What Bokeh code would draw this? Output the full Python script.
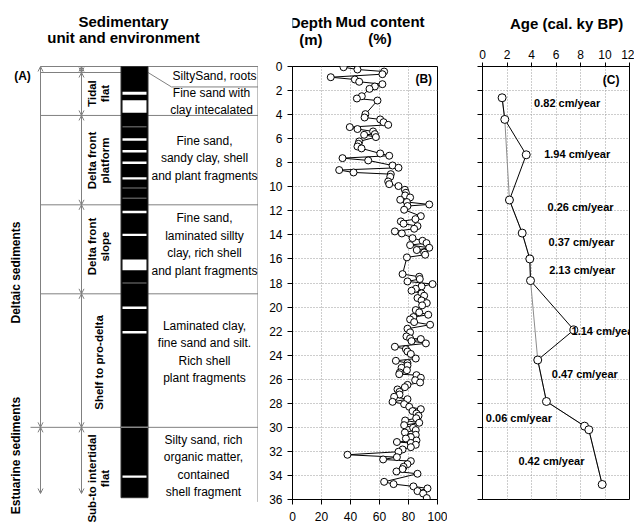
import math
from bokeh.plotting import figure
from bokeh.layouts import row, column
from bokeh.models import Range1d, Label, FixedTicker, Arrow, OpenHead, ColumnDataSource
from bokeh.core.properties import value
from bokeh.embed import file_html
from bokeh.resources import INLINE

FONT = "Liberation Sans"

# ---------------- core log (A) ----------------
unit_names = ["Tidal\nflat", "Delta front\nplatform", "Delta front\nslope",
              "Shelf to pro-delta", "Sub-to intertidal\nflat"]
unit_top = [0.5, 4.07, 11.5, 18.9, 30.0]
unit_base = [4.07, 11.5, 18.9, 30.0, 35.5]
unit_desc = ["Fine sand with\nclay intecalated",
             "Fine sand,\nsandy clay, shell\nand plant fragments",
             "Fine sand,\nlaminated sillty\nclay, rich shell\nand plant fragments",
             "Laminated clay,\nfine sand and silt.\nRich shell\nplant fragments",
             "Silty sand, rich\norganic matter,\ncontained\nshell fragment"]
surface_desc = "SiltySand, roots"
surface_top, surface_base = 0.0, 0.5
group_names = ["Deltaic sediments", "Estuarine sediments"]
group_top = [0.0, 30.0]
group_base = [30.0, 35.5]
core_top, core_base = 0.0, 35.85
# sandy beds within the core (top, base depth in m)
sand_top = [2.10, 2.80, 5.97, 6.94, 7.90, 9.20, 12.00, 13.90, 16.05, 19.96, 22.00, 34.00]
sand_base = [2.35, 3.85, 6.17, 7.14, 8.10, 9.40, 12.20, 14.10, 16.95, 20.16, 22.20, 34.20]
# thin silty partings
silt_depth = [5.0, 10.1, 10.95, 18.0]

# ---------------- mud content (B) ----------------
mud_depth = [0.06, 0.25, 0.42, 0.64, 0.89, 1.08, 1.27, 1.47, 1.66, 1.86, 2.47, 2.66, 2.83,
             3.96, 4.24, 4.40, 4.63, 4.85, 5.04, 5.20, 5.40, 5.62, 5.68, 5.87, 6.23, 6.43,
             6.65, 6.81, 7.23, 7.42, 7.62, 7.81, 8.23, 8.42, 8.61, 8.81, 8.95, 9.17, 9.56,
             9.78, 9.94, 10.25, 10.50, 10.72, 10.89, 11.08, 11.27, 11.47, 11.60, 11.91,
             12.44, 12.69, 12.88, 13.07, 13.27, 13.49, 13.71, 13.88, 14.27, 14.49, 14.68,
             14.85, 15.07, 15.26, 15.46, 15.65, 15.87, 17.26, 17.48, 17.67, 17.87, 18.09,
             18.28, 18.48, 18.64, 18.86, 19.06, 19.25, 19.45, 19.67, 19.86, 20.25, 20.44,
             20.64, 20.83, 21.03, 21.25, 21.47, 21.80, 22.10, 22.44, 22.60, 22.66, 22.83,
             23.02, 23.30, 23.50, 23.70, 23.90, 24.28, 24.47, 24.66, 24.86, 25.05, 25.25,
             25.44, 25.58, 25.66, 25.88, 26.08, 26.27, 26.47, 26.66, 26.85, 27.05, 27.27,
             27.46, 27.66, 27.88, 28.07, 28.29, 28.49, 28.65, 28.85, 29.04, 29.24, 29.43,
             29.62, 29.82, 30.04, 30.23, 30.43, 30.62, 30.81, 30.93, 31.09, 31.22, 31.30,
             31.45, 31.65, 31.84, 32.03, 32.28, 32.48, 32.67, 32.81, 33.06, 33.28, 33.47,
             33.67, 33.86, 34.53, 34.72, 34.91, 35.08, 35.30, 35.50, 35.88]
mud_pct = [35.2, 44.8, 63.2, 62.0, 26.4, 43.0, 46.0, 62.0, 56.8, 53.1, 47.8, 44.4, 58.6,
           50.3, 49.7, 60.5, 62.8, 66.0, 39.5, 44.8, 55.6, 56.8, 49.4, 57.5, 46.0, 45.5,
           44.8, 47.6, 60.5, 66.7, 34.5, 52.2, 69.0, 73.1, 32.2, 42.1, 67.8, 67.4, 66.0,
           66.7, 73.1, 77.5, 78.2, 77.7, 81.1, 74.3, 78.9, 94.3, 79.3, 77.0,
           88.5, 84.8, 74.7, 76.6, 86.2, 83.9, 70.6, 75.4, 82.8, 89.7, 92.4,
           81.1, 94.3, 85.7, 90.8, 91.5, 78.9, 75.9, 87.4, 87.8, 79.3, 96.6,
           89.0, 85.0, 82.1, 89.0, 90.8, 86.2, 89.0, 92.6, 89.4, 85.0, 87.4,
           93.6, 83.4, 81.1, 83.9, 94.9, 79.3, 81.1, 78.6, 81.1, 88.5, 82.1,
           92.0, 70.6, 78.2, 79.3, 81.6, 85.0, 71.3, 79.3, 79.3, 75.2, 78.9,
           74.0, 73.6, 85.5, 88.5, 84.6, 88.0, 79.3, 77.5, 72.4, 73.8, 73.8,
           70.1, 79.3, 69.0, 77.0, 80.5, 88.5, 82.8, 85.5, 86.9, 85.3, 77.7,
           87.4, 77.0, 83.2, 85.0, 77.5, 85.0, 81.6, 78.2, 85.5, 72.0, 81.6,
           85.0, 81.6, 75.9, 73.1, 37.9, 72.0, 62.5, 81.6, 79.3, 76.6, 75.9,
           71.7, 86.2, 63.2, 69.7, 83.4, 93.1, 86.2, 90.1, 92.6]

# ---------------- ages (C) ----------------
age_depth = [2.6, 4.4, 7.34, 11.1, 13.85, 16.0, 17.8, 21.9, 24.4, 27.85, 29.9, 30.2, 34.75]
age_ky = [1.60, 1.82, 3.57, 2.20, 3.24, 3.86, 3.92, 7.46, 4.51, 5.22, 8.33, 8.68, 9.77]
reversed_age = [2, 7]  # indices of ages out of stratigraphic order
rate_text = ["0.82 cm/year", "1.94 cm/year", "0.26 cm/year", "0.37 cm/year", "2.13 cm/year",
             "1.14 cm/year", "0.47 cm/year", "0.06 cm/year", "0.42 cm/year"]
rate_age = [6.91, 7.73, 8.0, 8.08, 8.14, 7.27, 8.35, 2.97, 5.63]
rate_depth = [3.05, 7.29, 11.72, 14.63, 16.96, 21.95, 25.6, 29.24, 32.76]
rate_align = ["center"] * 5 + ["left"] + ["center"] * 3

# ---------------- layout ----------------
H = 527
TOP, BOT = 66, 28
HEAD_B, HEAD_C = 48, 40           # title strips above panels B and C
PX_PER_M = (H - TOP - BOT) / 36.0
GRAY = "#808080"
WA, WB, WC = 258, 189, 187        # panel widths


def depth_at(px):
    return (px - TOP) / PX_PER_M


def txt(p, x, y, text, size, bold=False, align="center", baseline="middle", angle=0.0,
        line_height=1.2):
    p.text(x=[x], y=[y], text=[text], text_font=value(FONT), text_font_size=f"{size}px",
           text_font_style="bold" if bold else "normal", text_align=align,
           text_baseline=baseline, angle=angle, text_color="black",
           text_line_height=line_height)


def blank(p):
    p.grid.visible = False
    p.background_fill_color = "white"
    p.border_fill_color = "white"


# ===== Panel A: lithological column =====
pA = figure(width=WA, height=H, x_range=Range1d(0, WA),
            y_range=Range1d(depth_at(H), depth_at(0)),
            x_axis_type=None, y_axis_type=None, output_backend="svg",
            toolbar_location=None, min_border=0, outline_line_color=None)
blank(pA)

X_GRP, X_UNIT = 40, 81
COL_L, COL_R = 120.5, 147.5
X_RIGHT = 257.5

# boundary lines
pA.segment(x0=[X_GRP], y0=[core_top], x1=[X_RIGHT], y1=[core_top], line_color=GRAY, line_width=1)
pA.segment(x0=[X_GRP], y0=[surface_base], x1=[COL_L], y1=[surface_base], line_color=GRAY, line_width=1)
for t in unit_top[1:]:
    x0 = 30 if t in group_top[1:] else X_GRP
    pA.segment(x0=[x0], y0=[t], x1=[X_RIGHT], y1=[t], line_color=GRAY, line_width=1)
pA.line(x=[COL_R, 171, X_RIGHT], y=[surface_base, 1.7, 1.7], line_color=GRAY, line_width=1)
pA.segment(x0=[X_RIGHT], y0=[core_top], x1=[X_RIGHT], y1=[36.2], line_color=GRAY, line_width=1)

# column
pA.quad(left=[COL_L], right=[COL_R], top=[core_top], bottom=[core_base],
        fill_color="black", line_color="#333333", line_width=1)
pA.quad(left=[COL_L + 1.5] * len(sand_top), right=[COL_R - 1.5] * len(sand_top),
        top=sand_top, bottom=sand_base, fill_color="white", line_color=None)
pA.segment(x0=[COL_L + 1.5] * len(silt_depth), y0=silt_depth,
           x1=[COL_R - 1.5] * len(silt_depth), y1=silt_depth, line_color="#555555", line_width=1.5)
pA.segment(x0=[COL_L], y0=[group_top[1]], x1=[COL_R], y1=[group_top[1]],
           line_color="#888888", line_width=1.5)

# double-headed arrows spanning each group and unit
head = dict(size=5, line_color=GRAY, line_width=1)
for t, b in zip(group_top, group_base):
    pA.add_layout(Arrow(start=OpenHead(**head), end=OpenHead(**head), x_start=X_GRP, y_start=t,
                        x_end=X_GRP, y_end=b, line_color=GRAY, line_width=1))
for t, b in zip([surface_top] + unit_top, [surface_base] + unit_base):
    pA.add_layout(Arrow(start=OpenHead(**head), end=OpenHead(**head), x_start=X_UNIT, y_start=t,
                        x_end=X_UNIT, y_end=b, line_color=GRAY, line_width=1))

# titles and labels
txt(pA, 123, depth_at(20.5), "Sedimentary", 15, bold=True)
txt(pA, 123, depth_at(37), "unit and environment", 15, bold=True)
txt(pA, 22, depth_at(75), "(A)", 12, bold=True)

group_label_px = [272, 455]
for name, ypx in zip(group_names, group_label_px):
    txt(pA, 15, depth_at(ypx), name, 12, bold=True, angle=math.pi / 2)

unit_label_px = [93, 160, 246, 362, 478]
for name, ypx in zip(unit_names, unit_label_px):
    txt(pA, 98, depth_at(ypx), name, 11.5, bold=True, angle=math.pi / 2, line_height=1.1)

desc_px = [101, 157.7, 244.2, 351.5, 465.4]
desc_x = [211, 204, 204, 204, 203]
for d, ypx, x in zip(unit_desc, desc_px, desc_x):
    txt(pA, x, depth_at(ypx), d, 12, line_height=1.25)
txt(pA, 172, depth_at(75), surface_desc, 12, align="left")


def style_axes(p):
    for ax in p.axis:
        ax.axis_line_color = "black"
        ax.major_tick_line_color = "black"
        ax.minor_tick_line_color = None
        ax.major_tick_in = 0
        ax.major_tick_out = 5
        ax.major_label_text_font = FONT
        ax.major_label_text_font_size = "12px"
        ax.major_label_text_color = "black"
    p.grid.grid_line_color = "#9a9a9a"
    p.grid.grid_line_dash = "1 2"
    p.outline_line_color = "black"
    p.outline_line_width = 1
    p.background_fill_color = "white"
    p.border_fill_color = "white"


def label(p, x, y, text, size, bold=True, align="center"):
    p.add_layout(Label(x=x, y=y, text=text, text_font=FONT, text_font_size=f"{size}px",
                       text_font_style="bold" if bold else "normal", text_align=align,
                       text_baseline="middle", text_color="black"))


def head_strip(x0, w, h):
    p = figure(width=w, height=h, x_range=Range1d(x0, x0 + w), y_range=Range1d(h, 0),
               x_axis_type=None, y_axis_type=None, output_backend="svg",
               toolbar_location=None, min_border=0, outline_line_color=None)
    blank(p)
    return p


# ===== Panel B: mud content =====
hB = head_strip(WA, WB, HEAD_B)
txt(hB, 282, 22, "Depth", 15, bold=True)
txt(hB, 282, 38.5, "(m)", 15, bold=True)
txt(hB, 372, 21, "Mud content", 15, bold=True)
txt(hB, 372, 38, "(%)", 15, bold=True)

pB = figure(width=WB, height=H - HEAD_B, x_range=Range1d(0, 100), y_range=Range1d(36, 0),
            output_backend="svg", toolbar_location=None,
            min_border_left=34, min_border_right=10, min_border_top=TOP - HEAD_B,
            min_border_bottom=BOT)
style_axes(pB)
pB.xaxis.ticker = FixedTicker(ticks=[0, 20, 40, 60, 80, 100])
pB.yaxis.ticker = FixedTicker(ticks=list(range(0, 37, 2)))
pB.xgrid.ticker = FixedTicker(ticks=[20, 40, 60, 80])
pB.xaxis.major_label_standoff = 7
pB.yaxis.major_label_standoff = 5

src_mud = ColumnDataSource(dict(depth=mud_depth, mud=mud_pct))
pB.line("mud", "depth", source=src_mud, line_color="black", line_width=1)
pB.scatter("mud", "depth", source=src_mud, size=7, marker="circle",
           fill_color="white", line_color="black", line_width=1)
label(pB, 90.5, 1.0, "(B)", 12)

# ===== Panel C: age =====
hC = head_strip(WA + WB, WC, HEAD_C)
txt(hC, 554, 23, "Age (cal. ky BP)", 15, bold=True)

age_ticks = list(range(0, 37, 2))
pC = figure(width=WC, height=H - HEAD_C, x_range=Range1d(0, 12), y_range=Range1d(36, 0),
            x_axis_location="above", output_backend="svg", toolbar_location=None,
            min_border_left=35, min_border_right=5, min_border_top=TOP - HEAD_C,
            min_border_bottom=BOT)
style_axes(pC)
pC.xaxis.ticker = FixedTicker(ticks=list(range(0, 13, 2)))
pC.yaxis.ticker = FixedTicker(ticks=age_ticks)
pC.xgrid.ticker = FixedTicker(ticks=list(range(2, 11, 2)))
pC.xaxis.major_tick_out = 4
pC.xaxis.major_label_standoff = 4
pC.yaxis.major_label_overrides = {t: "" for t in age_ticks}

keep = [i for i in range(len(age_ky)) if i not in reversed_age]
pC.line([age_ky[i] for i in keep], [age_depth[i] for i in keep], line_color="#8c8c8c", line_width=1)
src_age = ColumnDataSource(dict(depth=age_depth, age=age_ky))
pC.line("age", "depth", source=src_age, line_color="black", line_width=1)
pC.scatter("age", "depth", source=src_age, size=8, marker="circle",
           fill_color="white", line_color="black", line_width=1)

for t, a, d, al in zip(rate_text, rate_age, rate_depth, rate_align):
    label(pC, a, d, t, 11, align=al)
label(pC, 10.5, 1.1, "(C)", 12)

layout = row(pA, column(hB, pB, spacing=0), column(hC, pC, spacing=0), spacing=0)
open("out.html", "w").write(file_html(layout, INLINE))
